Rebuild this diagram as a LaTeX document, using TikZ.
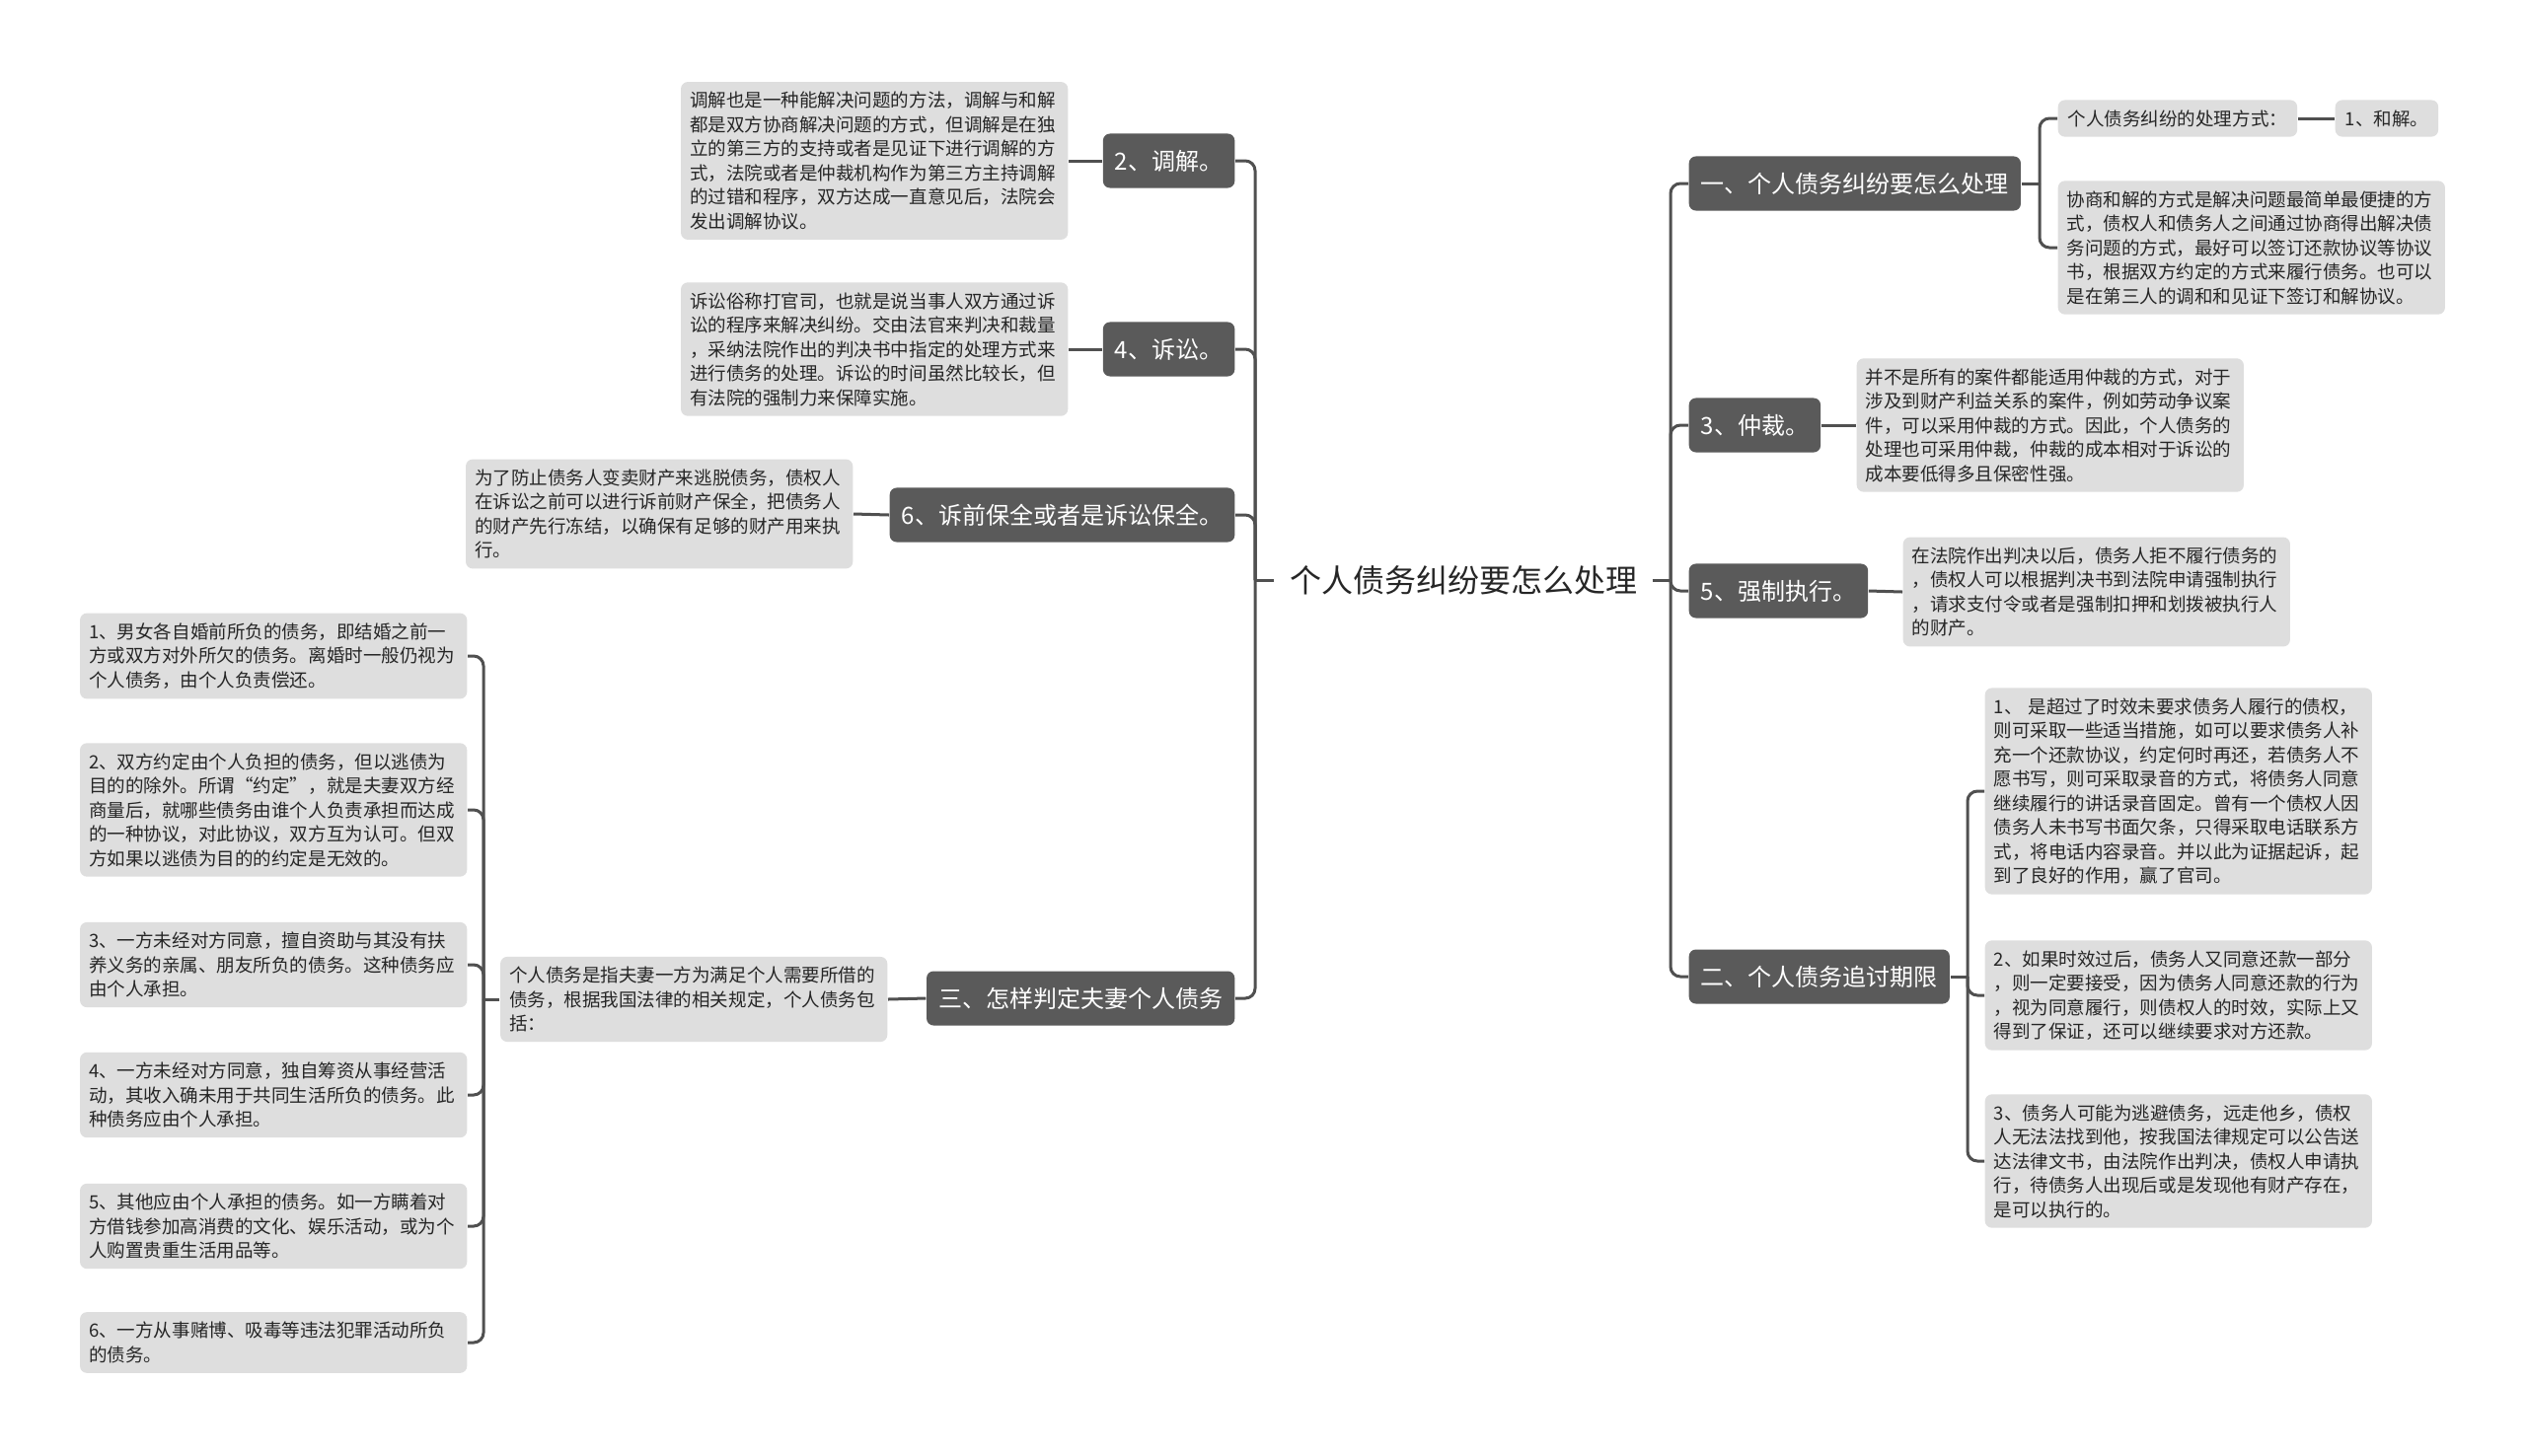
\documentclass[tikz,border=0pt]{standalone}
\usepackage{fontspec}
\setmainfont{Noto Sans CJK SC}
\definecolor{darkbox}{HTML}{5A5A5A}
\definecolor{lightbox}{HTML}{DEDEDE}
\definecolor{linec}{HTML}{505050}
\definecolor{txt}{HTML}{262626}
\tikzset{
  dark/.style={fill=darkbox, rounded corners=0.07cm, text=white, font=\fontsize{6.83pt}{8pt}\selectfont, inner xsep=0.12cm, inner ysep=0cm, minimum height=0.55cm},
  leaf/.style={fill=lightbox, rounded corners=0.07cm, text=txt, font=\fontsize{5.27pt}{6.97pt}\selectfont, align=left, text width=3.74cm, inner xsep=0.09cm, inner ysep=0.1cm},
  leafs/.style={fill=lightbox, rounded corners=0.07cm, text=txt, font=\fontsize{5.27pt}{6.97pt}\selectfont, inner xsep=0.1cm, inner ysep=0.1cm},
  conn/.style={draw=linec, line width=0.03cm, rounded corners=0.1cm},
}
\begin{document}
\begin{tikzpicture}[x=0.01cm, y=-0.01cm]
\useasboundingbox (0,0) rectangle (2560,1475);
\fill[white] (0,0) rectangle (2560,1475);

% root
\node[font=\fontsize{9.1pt}{11pt}\selectfont, text=txt, inner xsep=0.15cm] (root) at (1483,588) {个人债务纠纷要怎么处理};
\coordinate (Ltr) at (1272,588);
\coordinate (Rtr) at (1693,588);

% left main branches
\node[dark, anchor=east] (d2) at (1252,163) {2、调解。};
\node[dark, anchor=east] (d4) at (1252,354) {4、诉讼。};
\node[dark, anchor=east] (d6) at (1252,522) {6、诉前保全或者是诉讼保全。};
\node[dark, anchor=east] (d3) at (1252,1012) {三、怎样判定夫妻个人债务};

% right main branches
\node[dark, anchor=west] (r1) at (1711,186) {一、个人债务纠纷要怎么处理};
\node[dark, anchor=west] (r3) at (1711,431) {3、仲裁。};
\node[dark, anchor=west] (r5) at (1711,599) {5、强制执行。};
\node[dark, anchor=west] (r2) at (1711,990) {二、个人债务追讨期限};

% left leaves
\node[leaf, anchor=east] (l2) at (1083,163) {调解也是一种能解决问题的方法，调解与和解\\都是双方协商解决问题的方式，但调解是在独\\立的第三方的支持或者是见证下进行调解的方\\式，法院或者是仲裁机构作为第三方主持调解\\的过错和程序，双方达成一直意见后，法院会\\发出调解协议。};
\node[leaf, anchor=east] (l4) at (1083,354) {诉讼俗称打官司，也就是说当事人双方通过诉\\讼的程序来解决纠纷。交由法官来判决和裁量\\，采纳法院作出的判决书中指定的处理方式来\\进行债务的处理。诉讼的时间虽然比较长，但\\有法院的强制力来保障实施。};
\node[leaf, anchor=east] (l6) at (865,521) {为了防止债务人变卖财产来逃脱债务，债权人\\在诉讼之前可以进行诉前财产保全，把债务人\\的财产先行冻结，以确保有足够的财产用来执\\行。};
\node[leaf, anchor=east] (l3) at (900,1013) {个人债务是指夫妻一方为满足个人需要所借的\\债务，根据我国法律的相关规定，个人债务包\\括：};
\coordinate (S3) at (490,1013);

\node[leaf, anchor=east] (la) at (474,665) {1、男女各自婚前所负的债务，即结婚之前一\\方或双方对外所欠的债务。离婚时一般仍视为\\个人债务，由个人负责偿还。};
\node[leaf, anchor=east] (lb) at (474,821) {2、双方约定由个人负担的债务，但以逃债为\\目的的除外。所谓“约定”，就是夫妻双方经\\商量后，就哪些债务由谁个人负责承担而达成\\的一种协议，对此协议，双方互为认可。但双\\方如果以逃债为目的的约定是无效的。};
\node[leaf, anchor=east] (lc) at (474,978) {3、一方未经对方同意，擅自资助与其没有扶\\养义务的亲属、朋友所负的债务。这种债务应\\由个人承担。};
\node[leaf, anchor=east] (ld) at (474,1110) {4、一方未经对方同意，独自筹资从事经营活\\动，其收入确未用于共同生活所负的债务。此\\种债务应由个人承担。};
\node[leaf, anchor=east] (le) at (474,1243) {5、其他应由个人承担的债务。如一方瞒着对\\方借钱参加高消费的文化、娱乐活动，或为个\\人购置贵重生活用品等。};
\node[leaf, anchor=east] (lf) at (474,1361) {6、一方从事赌博、吸毒等违法犯罪活动所负\\的债务。};

% right leaves
\coordinate (S1) at (2067,186);
\node[leafs, anchor=west] (r1a) at (2085,120) {个人债务纠纷的处理方式：};
\node[leafs, anchor=west] (r1a2) at (2366,120) {1、和解。};
\node[leaf, anchor=west] (r1b) at (2085,251) {协商和解的方式是解决问题最简单最便捷的方\\式，债权人和债务人之间通过协商得出解决债\\务问题的方式，最好可以签订还款协议等协议\\书，根据双方约定的方式来履行债务。也可以\\是在第三人的调和和见证下签订和解协议。};
\node[leaf, anchor=west] (rr3) at (1881,431) {并不是所有的案件都能适用仲裁的方式，对于\\涉及到财产利益关系的案件，例如劳动争议案\\件，可以采用仲裁的方式。因此，个人债务的\\处理也可采用仲裁，仲裁的成本相对于诉讼的\\成本要低得多且保密性强。};
\node[leaf, anchor=west] (rr5) at (1928,600) {在法院作出判决以后，债务人拒不履行债务的\\，债权人可以根据判决书到法院申请强制执行\\，请求支付令或者是强制扣押和划拨被执行人\\的财产。};
\coordinate (S2) at (1994,990);
\node[leaf, anchor=west] (r2a) at (2011,802) {1、 是超过了时效未要求债务人履行的债权，\\则可采取一些适当措施，如可以要求债务人补\\充一个还款协议，约定何时再还，若债务人不\\愿书写，则可采取录音的方式，将债务人同意\\继续履行的讲话录音固定。曾有一个债权人因\\债务人未书写书面欠条，只得采取电话联系方\\式，将电话内容录音。并以此为证据起诉，起\\到了良好的作用，赢了官司。};
\node[leaf, anchor=west] (r2b) at (2011,1009) {2、如果时效过后，债务人又同意还款一部分\\，则一定要接受，因为债务人同意还款的行为\\，视为同意履行，则债权人的时效，实际上又\\得到了保证，还可以继续要求对方还款。};
\node[leaf, anchor=west] (r2c) at (2011,1177) {3、债务人可能为逃避债务，远走他乡，债权\\人无法法找到他，按我国法律规定可以公告送\\达法律文书，由法院作出判决，债权人申请执\\行，待债务人出现后或是发现他有财产存在，\\是可以执行的。};

% connectors
\draw[conn] (root.west) -- (Ltr);
\draw[conn] (root.east) -- (Rtr);
\foreach \n in {d2,d4,d6,d3} \draw[conn] (\n.east) -| (Ltr);
\foreach \n in {r1,r3,r5,r2} \draw[conn] (\n.west) -| (Rtr);
\draw[conn] (d2.west) -- (l2.east);
\draw[conn] (d4.west) -- (l4.east);
\draw[conn] (d6.west) -- (l6.east);
\draw[conn] (d3.west) -- (l3.east);
\draw[conn] (l3.west) -- (S3);
\foreach \n in {la,lb,lc,ld,le,lf} \draw[conn] (\n.east) -| (S3);
\draw[conn] (r1.east) -- (S1);
\draw[conn] (r1a.west) -| (S1);
\draw[conn] (r1b.west) -| (S1);
\draw[conn] (r1a.east) -- (r1a2.west);
\draw[conn] (r3.east) -- (rr3.west);
\draw[conn] (r5.east) -- (rr5.west);
\draw[conn] (r2.east) -- (S2);
\foreach \n in {r2a,r2b,r2c} \draw[conn] (\n.west) -| (S2);
\end{tikzpicture}
\end{document}
